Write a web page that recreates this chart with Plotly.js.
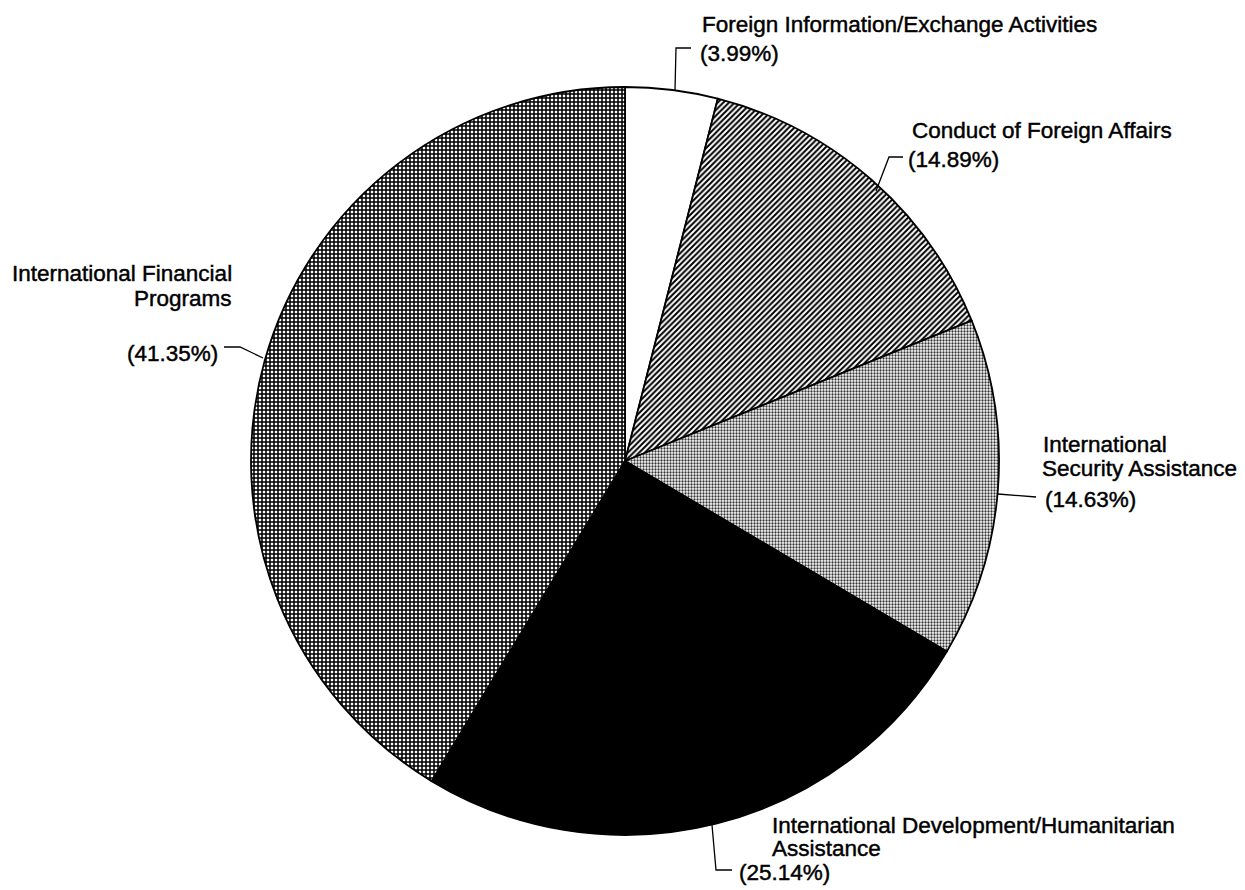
<!DOCTYPE html>
<html>
<head>
<meta charset="utf-8">
<script src="https://cdn.plot.ly/plotly-3.0.1.min.js"></script>
<style>
  html, body { margin: 0; padding: 0; background: #ffffff; }
  #chart { width: 1245px; height: 890px; }
  .annotation-text { stroke: #000000; stroke-width: 0.45px; }
</style>
</head>
<body>
<div id="chart"></div>
<script>
// ---- data ----
const categories = [
  'Foreign Information/Exchange Activities',
  'Conduct of Foreign Affairs',
  'International Security Assistance',
  'International Development/Humanitarian Assistance',
  'International Financial Programs'
];
const shares = [3.99, 14.89, 14.63, 25.14, 41.35];
const labelLines = [
  ['Foreign Information/Exchange Activities'],
  ['Conduct of Foreign Affairs'],
  ['International', 'Security Assistance'],
  ['International Development/Humanitarian', 'Assistance'],
  ['International Financial', 'Programs']
];
const pctText = shares.map(v => '(' + v.toFixed(2) + '%)');

// ---- layout helpers ----
const W = 1245, H = 890;
const px = x => x / W;
const py = y => 1 - y / H;

// pie geometry (pixels)
const CX = 625, CY = 461, R = 374;

const FONT = { family: 'Liberation Sans, Arial, sans-serif', size: 22.5, color: '#000000' };

// label placement: [x, y, anchor] for each line, then percentage
const place = [
  { lines: [[701, 25, 'left']], pct: [699, 54, 'left'] },
  { lines: [[911, 131, 'left']], pct: [907, 159, 'left'] },
  { lines: [[1042, 444, 'left'], [1041, 468, 'left']], pct: [1044, 499, 'left'] },
  { lines: [[771, 825, 'left'], [771, 848, 'left']], pct: [738, 872, 'left'] },
  { lines: [[233, 273, 'right'], [233, 298, 'right']], pct: [219, 353, 'right'] }
];

const leaders = [
  [[675, 90], [676, 48], [691, 48]],
  [[876, 191], [889, 157], [903, 157]],
  [[998, 494], [1036, 497]],
  [[712, 825], [716, 870], [732, 870]],
  [[224, 347], [240, 347], [263, 358]]
];

const annotations = [];
place.forEach((p, i) => {
  p.lines.forEach((ln, j) => {
    annotations.push({
      text: labelLines[i][j], xref: 'paper', yref: 'paper',
      x: px(ln[0]), y: py(ln[1]), xanchor: ln[2], yanchor: 'middle',
      showarrow: false, font: FONT, borderpad: 0
    });
  });
  annotations.push({
    text: pctText[i], xref: 'paper', yref: 'paper',
    x: px(p.pct[0]), y: py(p.pct[1]), xanchor: p.pct[2], yanchor: 'middle',
    showarrow: false, font: FONT, borderpad: 0
  });
});

const shapes = leaders.map(pts => ({
  type: 'path', xref: 'paper', yref: 'paper',
  path: pts.map((q, k) => (k ? 'L' : 'M') + px(q[0]) + ',' + py(q[1])).join(' '),
  line: { color: '#000000', width: 1.3 }
}));

const trace = {
  type: 'pie',
  labels: categories,
  values: shares,
  sort: false,
  direction: 'clockwise',
  rotation: 0,
  textinfo: 'none',
  hoverinfo: 'label+percent',
  showlegend: false,
  domain: { x: [px(CX - R), px(CX + R)], y: [py(CY + R), py(CY - R)] },
  marker: {
    colors: ['#ffffff', '#ffffff', '#ffffff', '#000000', '#ffffff'],
    line: { color: '#000000', width: 1.8 },
    pattern: {
      shape: ['', '/', '.', '', '+'],
      size: [4, 4, 3, 4, 4],
      solidity: [0.3, 0.5, 0.45, 0.3, 0.62],
      fgcolor: ['#000000', '#000000', '#333333', '#000000', '#000000'],
      bgcolor: ['#ffffff', '#ffffff', '#ffffff', '#000000', '#ffffff'],
      fillmode: 'replace'
    }
  }
};

const layout = {
  width: W, height: H, autosize: false,
  margin: { l: 0, r: 0, t: 0, b: 0, pad: 0 },
  paper_bgcolor: '#ffffff', plot_bgcolor: '#ffffff',
  showlegend: false,
  annotations: annotations,
  shapes: shapes
};

Plotly.newPlot('chart', [trace], layout, { displayModeBar: false, staticPlot: true });
</script>
</body>
</html>
